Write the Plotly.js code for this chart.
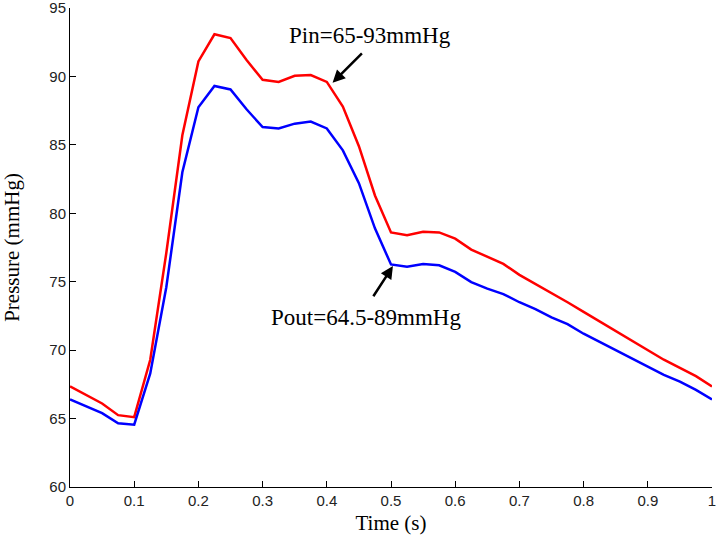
<!DOCTYPE html>
<html>
<head>
<meta charset="utf-8">
<script src="https://cdn.plot.ly/plotly-3.0.1.min.js"></script>
<style>html,body{margin:0;padding:0;background:#fff;}#chart{width:717px;height:537px;}</style>
</head>
<body>
<div id="chart"></div>
<script>
const timeS = [0,0.025,0.05,0.075,0.1,0.125,0.15,0.175,0.2,0.225,0.25,0.275,0.3,0.325,0.35,0.375,0.4,0.425,0.45,0.475,0.5,0.525,0.55,0.575,0.6,0.625,0.65,0.675,0.7,0.725,0.75,0.775,0.8,0.825,0.85,0.875,0.9,0.925,0.95,0.975,1.0];
const pinValues = [67.35,66.75,66.1,65.25,65.1,69.3,77.1,85.7,91.1,93.08,92.8,91.2,89.75,89.6,90.05,90.1,89.6,87.8,84.9,81.3,78.6,78.4,78.65,78.6,78.15,77.35,76.85,76.3,75.5,74.85,74.2,73.5,72.8,72.1,71.45,70.75,70.05,69.3,68.7,68.1,67.35];
const poutValues = [66.4,65.9,65.4,64.65,64.55,68.3,74.6,83.0,87.75,89.3,89.05,87.6,86.3,86.2,86.55,86.7,86.2,84.6,82.2,78.9,76.26,76.1,76.3,76.2,75.72,74.97,74.5,74.1,73.5,73.0,72.4,71.9,71.2,70.6,70.0,69.45,68.85,68.2,67.7,67.1,66.4];
const xTicks = [0,0.1,0.2,0.3,0.4,0.5,0.6,0.7,0.8,0.9,1];
const xTickText = ['0','0.1','0.2','0.3','0.4','0.5','0.6','0.7','0.8','0.9','1'];
const yTicks = [60,65,70,75,80,85,90,95];
const pinLabel = 'Pin=65-93mmHg';
const poutLabel = 'Pout=64.5-89mmHg';

const traces = [
  {x: timeS, y: pinValues, type: 'scatter', mode: 'lines', name: 'Pin',
   line: {color: '#ff0000', width: 2.5}},
  {x: timeS, y: poutValues, type: 'scatter', mode: 'lines', name: 'Pout',
   line: {color: '#0000ff', width: 2.5}}
];

const annFont = {family: '"Liberation Serif","Times New Roman",serif', size: 23, color: '#000'};
const layout = {
  width: 717, height: 537,
  margin: {l: 70, r: 5, t: 8, b: 50, pad: 0},
  paper_bgcolor: '#fff', plot_bgcolor: '#fff',
  showlegend: false,
  xaxis: {
    range: [0, 1], tickvals: xTicks, ticktext: xTickText,
    ticks: 'inside', ticklen: 6, tickwidth: 1, tickcolor: '#000',
    showline: true, linecolor: '#000', linewidth: 1, mirror: false,
    showgrid: false, zeroline: false, ticklabeloverflow: 'allow',
    tickfont: {family: '"Liberation Sans",Arial,sans-serif', size: 15, color: '#222'},
    title: {text: 'Time (s)', font: {family: '"Liberation Serif","Times New Roman",serif', size: 21, color: '#000'}, standoff: 7}
  },
  yaxis: {
    range: [60, 95], tickvals: yTicks,
    ticks: 'inside', ticklen: 6, tickwidth: 1, tickcolor: '#000',
    showline: true, linecolor: '#000', linewidth: 1, mirror: false,
    showgrid: false, zeroline: false, ticklabeloverflow: 'allow',
    tickfont: {family: '"Liberation Sans",Arial,sans-serif', size: 15, color: '#222'},
    title: {text: 'Pressure (mmHg)', font: {family: '"Liberation Serif","Times New Roman",serif', size: 21, color: '#000'}, standoff: 24}
  },
  annotations: [
    {x: 0.4677, y: 93.0, xref: 'x', yref: 'y', text: pinLabel, showarrow: false, font: annFont},
    {x: 0.409, y: 89.54, xref: 'x', yref: 'y', ax: 0.457, ay: 91.8, axref: 'x', ayref: 'y',
     text: '', showarrow: true, arrowhead: 2, arrowsize: 1, arrowwidth: 2.5, arrowcolor: '#000', standoff: 0},
    {x: 0.4607, y: 72.42, xref: 'x', yref: 'y', text: poutLabel, showarrow: false, font: annFont},
    {x: 0.503, y: 76.14, xref: 'x', yref: 'y', ax: 0.471, ay: 73.83, axref: 'x', ayref: 'y',
     text: '', showarrow: true, arrowhead: 2, arrowsize: 1, arrowwidth: 2.5, arrowcolor: '#000', standoff: 0}
  ]
};

Plotly.newPlot('chart', traces, layout, {displayModeBar: false, staticPlot: true});
</script>
</body>
</html>
